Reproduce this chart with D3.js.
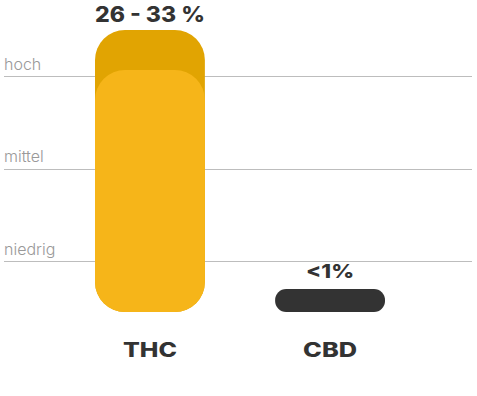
<!DOCTYPE html>
<html>
<head>
<meta charset="utf-8">
<script src="https://cdn.jsdelivr.net/npm/d3@7"></script>
<style>
  body { margin: 0; background: #fff; }
  svg { display: block; }
</style>
</head>
<body>
<svg id="chart" width="477" height="396"></svg>
<script>
// data
let categories = ["THC", "CBD"];
let rangeLow   = [26, 0];
let rangeHigh  = [33, 1];
let valueLabels = ["26 - 33 %", "<1%"];
let levels = ["niedrig", "mittel", "hoch"];

let chart = d3.select("#chart");

// x positions for the bars
let x = d3.scaleBand()
    .domain(categories)
    .range([95, 385])
    .paddingInner(0.39)
    .paddingOuter(0);

// piecewise value scale (bars are pictogram-like, not linear from zero)
let y = d3.scaleLinear()
    .domain([0, 1, 26, 33])
    .range([312, 289, 70, 30]);

// level gridlines
let yLevel = d3.scalePoint()
    .domain(levels)
    .range([261, 76]);

chart.selectAll("line.grid")
    .data(levels)
    .enter()
    .append("line")
    .attr("class", "grid")
    .attr("x1", 4)
    .attr("x2", 472)
    .attr("y1", d => Math.round(yLevel(d)) + 0.5)
    .attr("y2", d => Math.round(yLevel(d)) + 0.5)
    .style("stroke", "#bdbdbd")
    .style("stroke-width", 1);

chart.selectAll("text.level")
    .data(levels)
    .enter()
    .append("text")
    .attr("class", "level")
    .attr("x", 4)
    .attr("y", d => yLevel(d) - 6.5)
    .text(d => d)
    .style("font-family", "Inter, sans-serif")
    .style("font-weight", 300)
    .style("font-size", "16px")
    .style("fill", "#999999");

let idx = d3.range(categories.length);

// high end of range (darker)
chart.selectAll("rect.high")
    .data(idx.filter(i => rangeLow[i] > 0))
    .enter()
    .append("rect")
    .attr("class", "high")
    .attr("x", i => x(categories[i]))
    .attr("width", x.bandwidth())
    .attr("y", i => y(rangeHigh[i]))
    .attr("height", i => y(0) - y(rangeHigh[i]))
    .attr("rx", 30)
    .style("fill", "#e1a402");

// low end of range (lighter)
chart.selectAll("rect.low")
    .data(idx.filter(i => rangeLow[i] > 0))
    .enter()
    .append("rect")
    .attr("class", "low")
    .attr("x", i => x(categories[i]))
    .attr("width", x.bandwidth())
    .attr("y", i => y(rangeLow[i]))
    .attr("height", i => y(0) - y(rangeLow[i]))
    .attr("rx", 30)
    .style("fill", "#f6b519");

// tiny values drawn as a dark pill
chart.selectAll("rect.small")
    .data(idx.filter(i => rangeLow[i] === 0))
    .enter()
    .append("rect")
    .attr("class", "small")
    .attr("x", i => x(categories[i]))
    .attr("width", x.bandwidth())
    .attr("y", i => y(rangeHigh[i]))
    .attr("height", i => y(0) - y(rangeHigh[i]))
    .attr("rx", 11)
    .style("fill", "#333333");

// value labels (wide heavy type, stretched to match)
chart.selectAll("text.value")
    .data(idx)
    .enter()
    .append("text")
    .attr("class", "value")
    .attr("x", i => x(categories[i]) + x.bandwidth() / 2)
    .attr("y", i => y(rangeHigh[i]) - (rangeLow[i] > 0 ? 8 : 11))
    .attr("text-anchor", "middle")
    .attr("textLength", i => rangeLow[i] > 0 ? 110 : 48)
    .attr("lengthAdjust", "spacingAndGlyphs")
    .text(i => valueLabels[i])
    .style("font-family", "Inter, 'DejaVu Sans', sans-serif")
    .style("font-weight", 800)
    .style("font-size", i => rangeLow[i] > 0 ? "21px" : "19px")
    .style("fill", "#333333");

// category labels
chart.selectAll("text.cat")
    .data(categories)
    .enter()
    .append("text")
    .attr("class", "cat")
    .attr("x", d => x(d) + x.bandwidth() / 2)
    .attr("y", 357)
    .attr("text-anchor", "middle")
    .attr("textLength", 54)
    .attr("lengthAdjust", "spacingAndGlyphs")
    .text(d => d)
    .style("font-family", "Inter, 'DejaVu Sans', sans-serif")
    .style("font-weight", 800)
    .style("font-size", "20px")
    .style("fill", "#333333");
</script>
</body>
</html>
